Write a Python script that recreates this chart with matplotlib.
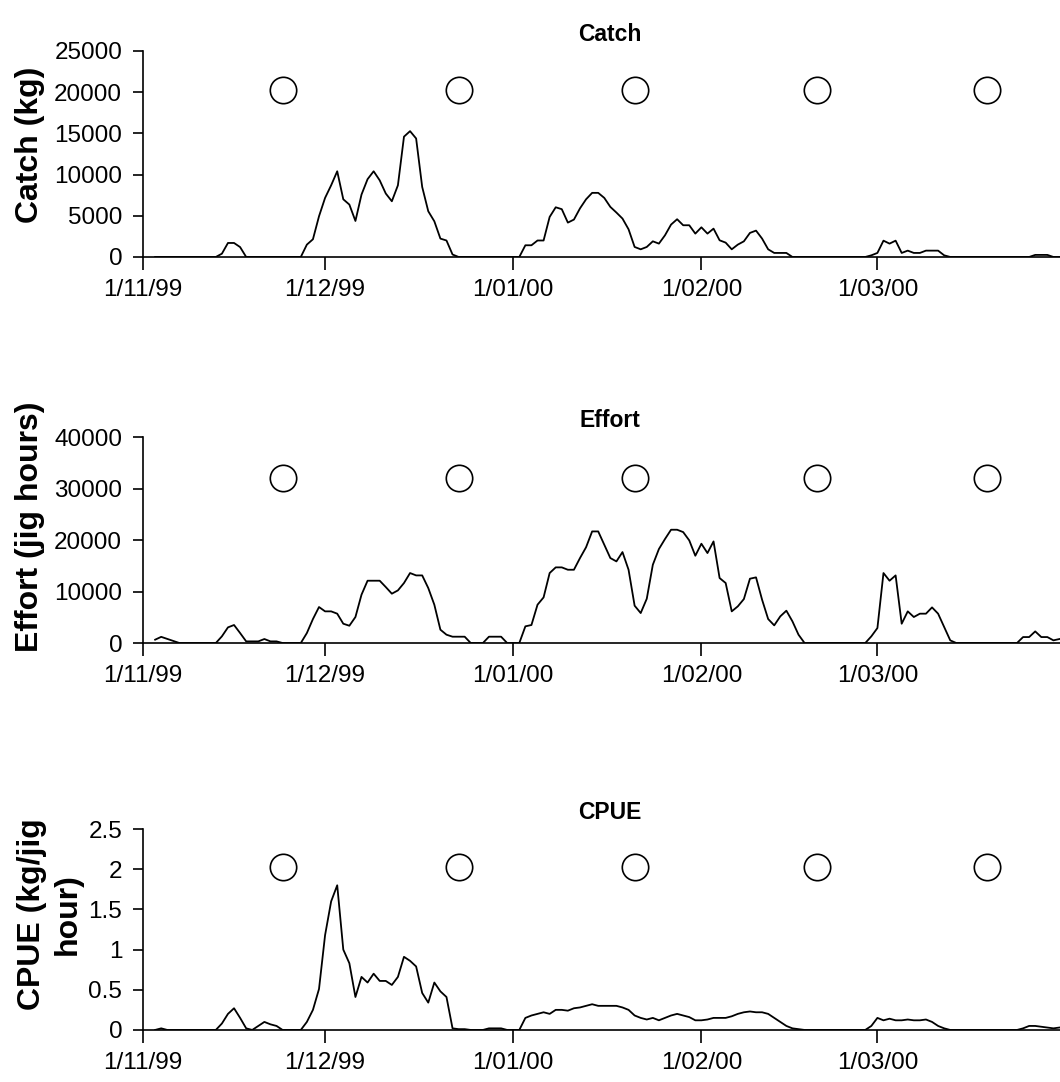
import matplotlib
matplotlib.use("Agg")
import matplotlib.pyplot as plt
import matplotlib.dates as mdates
from matplotlib.ticker import MultipleLocator, FormatStrFormatter
import numpy as np
import pandas as pd

plt.rcParams["font.family"] = ["Liberation Sans", "DejaVu Sans"]

nan = np.nan

# daily values, 1 Nov 1999 - 31 Mar 2000
catch_kg = [
    nan, nan, 0, 0, 0, 0, 0, 0, 0, 0, 0, 0, 0, 400, 1700, 1700, 1200,
    0, 0, 0, 0, 0, 0, 0, 0, 0, 0,
    1500, 2150, 4940, 7170, 8700, 10400, 7000, 6360, 4370, 7570, 9440, 10400,
    9300, 7700, 6760, 8700, 14600, 15270, 14380, 8500, 5550, 4330, 2230, 2000, 300,
    0, 0, 0, 0, 0, 0, 0, 0, 0, 0, 0,
    1420, 1420, 2000, 2000, 4860, 6030, 5800, 4170, 4540, 5900, 7000, 7780,
    7780, 7170, 6075, 5390, 4660, 3360, 1215, 930, 1215, 1900, 1620, 2630,
    3930, 4580, 3850, 3850, 2835, 3600, 2835, 3440, 2025, 1740, 930, 1500,
    1900, 2920, 3200, 2230, 930, 490, 490, 490, 0,
    0, 0, 0, 0, 0, 0, 0, 0, 0, 0, 0, 0,
    200, 490, 1980, 1620, 1980, 490, 770, 490, 490, 770, 770, 770, 200,
    0, 0, 0, 0, 0, 0, 0, 0, 0, 0, 0, 0, 0, 0,
    250, 250, 250, 0, 0,
]

effort_jig_hours = [
    nan, nan, 650, 1200, 800, 400, 0, 0, 0, 0, 0, 0, 0,
    1300, 3040, 3500, 1940, 320, 320, 320, 780, 320, 320,
    0, 0, 0, 0,
    1940, 4660, 6990, 6150, 6150, 5700, 3750, 3360, 5050, 9380, 12100, 12100,
    12100, 10870, 9580, 10220, 11650, 13590, 13130, 13130, 10680, 7440, 2590,
    1620, 1230, 1230, 1230,
    0, 0, 0,
    1230, 1230, 1230,
    0, 0, 0,
    3240, 3500, 7440, 8860, 13590, 14690, 14690, 14230, 14230, 16500, 18600,
    21670, 21670, 19090, 16500, 15850, 17660, 14230, 7250, 5820, 8600, 15200,
    18250, 20190, 22000, 22000, 21540, 19930, 16950, 19280, 17470, 19730,
    12620, 11650, 6150, 7120, 8540, 12490, 12750, 8410, 4660, 3430, 5180,
    6280, 4210, 1620,
    0, 0, 0, 0, 0, 0, 0, 0, 0, 0, 0,
    1300, 2910, 13590, 12100, 13130, 3750, 6150, 5050, 5700, 5700, 6920,
    5700, 3100, 520,
    0, 0, 0, 0, 0, 0, 0, 0, 0, 0, 0,
    1160, 1160, 2260, 1160, 1160, 520, 780,
]

cpue = [
    nan, nan, 0, 0.02, 0, 0, 0, 0, 0, 0, 0, 0, 0,
    0.08, 0.2, 0.27, 0.15, 0.02, 0, 0.05, 0.1, 0.07, 0.05, 0,
    0, 0, 0,
    0.1, 0.25, 0.51, 1.18, 1.60, 1.80, 1.00, 0.83, 0.41, 0.66, 0.59, 0.70,
    0.61, 0.61, 0.56, 0.66, 0.91, 0.86, 0.79, 0.46, 0.34, 0.59, 0.48, 0.41, 0.02,
    0.01, 0.01, 0, 0, 0, 0.02, 0.02, 0.02, 0, 0, 0,
    0.15, 0.18, 0.2, 0.22, 0.2, 0.25, 0.25, 0.24, 0.27, 0.28, 0.3, 0.32,
    0.3, 0.3, 0.3, 0.3, 0.28, 0.25, 0.18, 0.15, 0.13, 0.15, 0.12, 0.15,
    0.18, 0.2, 0.18, 0.16, 0.12, 0.12, 0.13, 0.15, 0.15, 0.15, 0.17, 0.2,
    0.22, 0.23, 0.22, 0.22, 0.2, 0.15, 0.1, 0.05, 0.02, 0.01,
    0, 0, 0, 0, 0, 0, 0, 0, 0, 0, 0,
    0.05, 0.15, 0.12, 0.14, 0.12, 0.12, 0.13, 0.12, 0.12, 0.13, 0.1, 0.05,
    0.02, 0,
    0, 0, 0, 0, 0, 0, 0, 0, 0, 0, 0,
    0.02, 0.05, 0.05, 0.04, 0.03, 0.02, 0.03,
]

moon_dates = ["1999-11-24", "1999-12-23", "2000-01-21", "2000-02-20", "2000-03-19"]
moon_level = {"Catch": 20300, "Effort": 32000, "CPUE": 2.03}

dates = pd.date_range("1999-11-01", periods=len(catch_kg), freq="D")
moons = pd.to_datetime(moon_dates)

panels = [
    ("Catch", "Catch (kg)", catch_kg, 25000, 5000, "%d", (-0.107, 0.545)),
    ("Effort", "Effort (jig hours)", effort_jig_hours, 40000, 10000, "%d", (-0.107, 0.563)),
    ("CPUE", "CPUE (kg/jig\nhour)", cpue, 2.5, 0.5, "%g", (-0.066, 0.577)),
]

fig = plt.figure(figsize=(10.6, 10.82), dpi=100)
boxes = [
    (0.1349, 0.7625, 0.8651, 0.1904),
    (0.1349, 0.4057, 0.8651, 0.1904),
    (0.1349, 0.0481, 0.8651, 0.1857),
]


def date_label(v, pos):
    d = mdates.num2date(v)
    return "1/%02d/%s" % (d.month, d.strftime("%y"))


for (title, ylabel, values, ymax, step, fmt, lab_xy), box in zip(panels, boxes):
    ax = fig.add_axes(box)
    ax.plot(dates, values, color="black", lw=1.3)
    ax.plot(moons, [moon_level[title]] * len(moons), "o", ms=19, mfc="white",
            mec="black", mew=1.2, ls="none", clip_on=False)
    ax.set_ylim(0, ymax)
    ax.set_xlim(pd.Timestamp("1999-11-01"), pd.Timestamp("2000-03-31 02:00"))
    ax.yaxis.set_major_locator(MultipleLocator(step))
    ax.yaxis.set_major_formatter(FormatStrFormatter(fmt))
    ax.xaxis.set_major_locator(mdates.MonthLocator())
    ax.xaxis.set_major_formatter(plt.FuncFormatter(date_label))
    for s in ("top", "right"):
        ax.spines[s].set_visible(False)
    for s in ("left", "bottom"):
        ax.spines[s].set_linewidth(1.2)
    ax.tick_params(axis="y", direction="out", length=7, width=1.2, labelsize=17.5, pad=8)
    ax.tick_params(axis="x", direction="out", length=9, width=1.2, labelsize=17.5, pad=7)
    ax.set_title(title, fontsize=16.5, fontweight="bold", x=0.509, pad=7)
    ax.set_ylabel(ylabel, fontsize=23, fontweight="bold", linespacing=1.25)
    ax.yaxis.set_label_coords(*lab_xy)

fig.savefig("out.png", dpi=100)
